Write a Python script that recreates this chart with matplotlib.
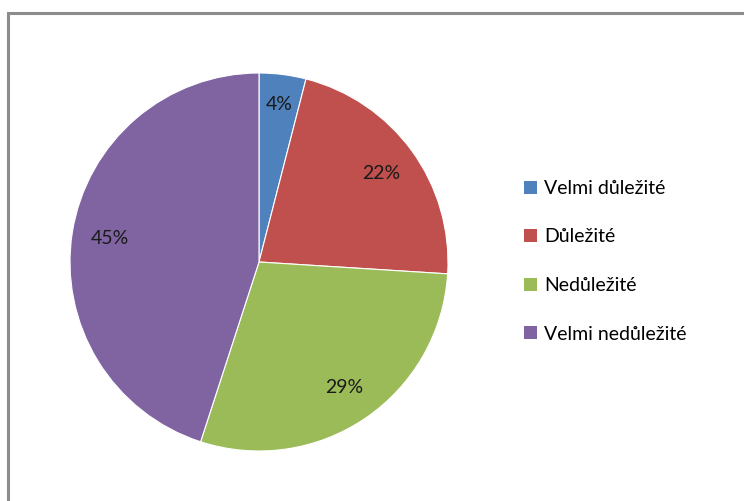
import matplotlib.pyplot as plt
import numpy as np
from matplotlib.patches import Rectangle, Patch

# Data
kategorie = ['Velmi důležité', 'Důležité', 'Nedůležité', 'Velmi nedůležité']
podily = [4, 22, 29, 45]
barvy = ['#4F81BD', '#C0504D', '#9BBB59', '#8064A2']

plt.rcParams['font.family'] = ['Lato', 'DejaVu Sans']

W, H = 744, 501
fig = plt.figure(figsize=(W / 100, H / 100), dpi=100)

# Chart frame (grey border, running off the right and bottom edges)
fig.patches.append(Rectangle((8 / W, -0.1), 1.2, (H - 13) / H + 0.1,
                             transform=fig.transFigure, fill=False,
                             edgecolor='#8c8c8c', linewidth=2.2))

# Pie axes: centre (259, 262) px, radius 189 px
cx, cy, r = 259, 262, 189
ax = fig.add_axes([(cx - r) / W, (H - cy - r) / H, 2 * r / W, 2 * r / H])
wedges, texty, popisky = ax.pie(podily, colors=barvy, startangle=90, counterclock=False,
                                radius=1, autopct='%1.0f%%', pctdistance=0.8,
                                wedgeprops=dict(edgecolor='white', linewidth=0.8),
                                textprops=dict(fontsize=14, color='#1a1a1a'))
# small slice label sits a bit further out
x, y = popisky[0].get_position()
popisky[0].set_position((x * 0.84 / 0.8, y * 0.84 / 0.8))
ax.set_xlim(-1, 1)
ax.set_ylim(-1, 1)
ax.set_aspect('equal')
ax.axis('off')

# Legend
handles = [Patch(facecolor=c, edgecolor='none') for c in barvy]
fig.legend(handles, kategorie, loc='upper left', bbox_to_anchor=(524 / W, 1 - 180 / H),
           frameon=False, fontsize=14, handlelength=0.65, handleheight=0.65,
           handletextpad=0.4, labelspacing=1.62, borderaxespad=0, borderpad=0)

fig.savefig('out.png', dpi=100)
